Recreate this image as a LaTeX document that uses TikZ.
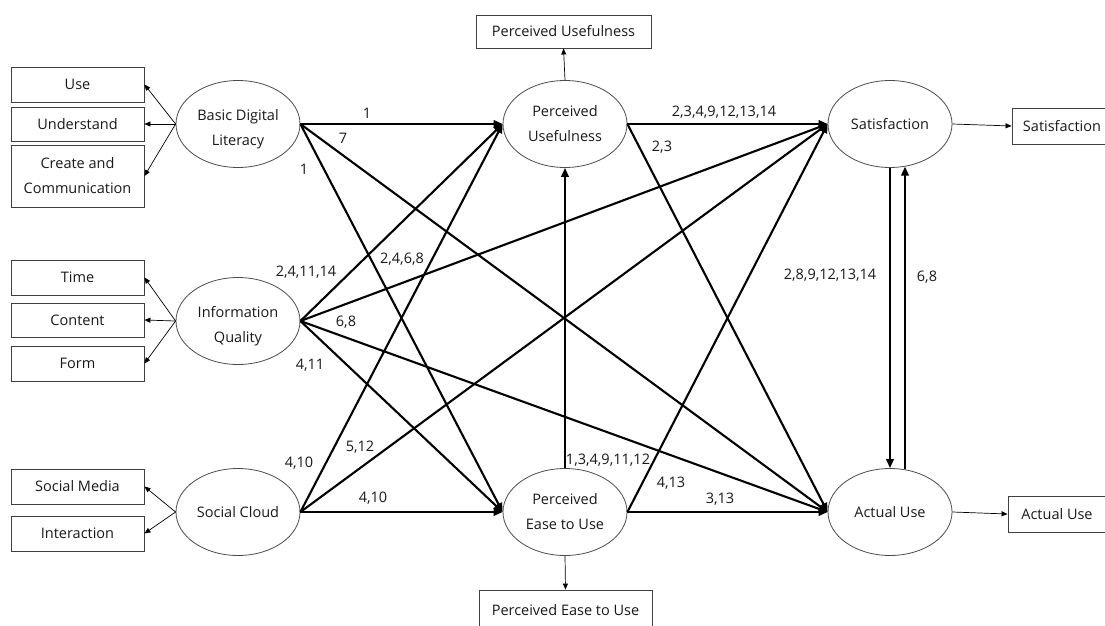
\documentclass[tikz,border=0pt]{standalone}
\usepackage{fontspec}
\setmainfont{Open Sans}
\usetikzlibrary{arrows.meta,shapes.geometric}
\begin{document}
\begin{tikzpicture}[x=1pt,y=-1pt,
  font=\fontsize{14.5}{25}\selectfont,
  latent/.style={ellipse,draw=black!70,line width=0.8pt,minimum width=124pt,
    minimum height=87pt,inner sep=0pt,align=center,text=black!90},
  lowtext/.style={label={[align=center,text=black!90,yshift=-5pt]center:#1}},
  indicator/.style={rectangle,draw=black!75,line width=0.9pt,inner sep=0pt,
    align=center,text=black!90},
  effect/.style={line width=2.1pt,-{Triangle[length=9pt,width=7.5pt]}},
  loading/.style={line width=0.7pt,-{Triangle[length=6pt,width=5pt]}},
  coef/.style={inner sep=0pt,text=black!90}
]
\clip (0,0) rectangle (1105,626);
\fill[white] (0,0) rectangle (1105,626);

% latent constructs
\node[latent,lowtext={Basic Digital\\Literacy}] (bdl) at (238,124) {};
\node[latent,lowtext={Information\\Quality}]    (iq)  at (238,321) {};
\node[latent] (sc)  at (238,512) {Social Cloud};
\node[latent] (pu)  at (565,124) {Perceived\\Usefulness};
\node[latent] (peu) at (565,512) {Perceived\\Ease to Use};
\node[latent] (sat) at (890,124) {Satisfaction};
\node[latent] (au)  at (890,512) {Actual Use};

% observed indicators
\node[indicator,minimum width=133pt,minimum height=35pt] (use)   at (77.5,84.5)  {Use};
\node[indicator,minimum width=133pt,minimum height=34pt] (und)   at (77.5,124)   {Understand};
\node[indicator,minimum width=133pt,minimum height=62pt] (cre)   at (77.5,176)   {Create and\\Communication};
\node[indicator,minimum width=133pt,minimum height=35pt] (time)  at (77.5,277.5) {Time};
\node[indicator,minimum width=133pt,minimum height=34pt] (cont)  at (77.5,320)   {Content};
\node[indicator,minimum width=133pt,minimum height=35pt] (form)  at (77.5,363.5) {Form};
\node[indicator,minimum width=133pt,minimum height=35pt] (smed)  at (77.5,486.5) {Social Media};
\node[indicator,minimum width=133pt,minimum height=35pt] (inter) at (77.5,533.5) {Interaction};
\node[indicator,minimum width=175pt,minimum height=33pt] (pubox)  at (563.5,31.5) {Perceived Usefulness};
\node[indicator,minimum width=173pt,minimum height=40pt] (peubox) at (565.5,610)  {Perceived Ease to Use};
\node[indicator,minimum width=100pt,minimum height=36pt] (satbox) at (1062,126)   {Satisfaction};
\node[indicator,minimum width=98pt,minimum height=36pt]  (aubox)  at (1057,514)   {Actual Use};

% measurement arrows
\draw[loading] (bdl.west) -- (use.east);
\draw[loading] (bdl.west) -- (und.east);
\draw[loading] (bdl.west) -- (cre.east);
\draw[loading] (iq.west) -- (time.east);
\draw[loading] (iq.west) -- (cont.east);
\draw[loading] (iq.west) -- (form.east);
\draw[loading] (sc.west) -- (smed.east);
\draw[loading] (sc.west) -- (inter.east);
\draw[loading] (pu.north) -- (pubox.south);
\draw[loading] (peu.south) -- (peubox.north);
\draw[loading] (sat.east) -- (satbox.west);
\draw[loading] (au.east) -- (aubox.west);

% structural paths
\draw[effect] (bdl.east) -- (pu.west);
\draw[effect] (bdl.east) -- (peu.west);
\draw[effect] (bdl.east) -- (au.west);
\draw[effect] (iq.east) -- (pu.west);
\draw[effect] (iq.east) -- (sat.west);
\draw[effect] (iq.east) -- (au.west);
\draw[effect] (iq.east) -- (peu.west);
\draw[effect] (sc.east) -- (pu.west);
\draw[effect] (sc.east) -- (sat.west);
\draw[effect] (sc.east) -- (peu.west);
\draw[effect] (pu.east) -- (sat.west);
\draw[effect] (pu.east) -- (au.west);
\draw[effect] (peu.north) -- (pu.south);
\draw[effect] (peu.east) -- (sat.west);
\draw[effect] (peu.east) -- (au.west);
\draw[effect] (sat.south) -- (au.north);
\draw[effect] ([xshift=15pt,yshift=-1.3pt]au.north) -- ([xshift=15pt,yshift=1.3pt]sat.south);

% path labels
\node[coef] (l1)  at (367,113) {1};
\node[coef] (l2)  at (343,138) {7};
\node[coef] (l3)  at (304,169) {1};
\node[coef] (l4)  at (306,272) {2,4,11,14};
\node[coef] (l5)  at (402,259) {2,4,6,8};
\node[coef] (l6)  at (346,322) {6,8};
\node[coef] (l7)  at (310,365) {4,11};
\node[coef] (l8)  at (299,463) {4,10};
\node[coef] (l9)  at (360,447) {5,12};
\node[coef] (l10) at (373,498) {4,10};
\node[coef] (l11) at (608,460) {1,3,4,9,11,12};
\node[coef] (l12) at (671,483) {4,13};
\node[coef] (l13) at (720,499) {3,13};
\node[coef] (l14) at (724,112) {2,3,4,9,12,13,14};
\node[coef] (l15) at (662,147) {2,3};
\node[coef] (l16) at (830,275) {2,8,9,12,13,14};
\node[coef] (l17) at (927,277) {6,8};
\end{tikzpicture}
\end{document}
